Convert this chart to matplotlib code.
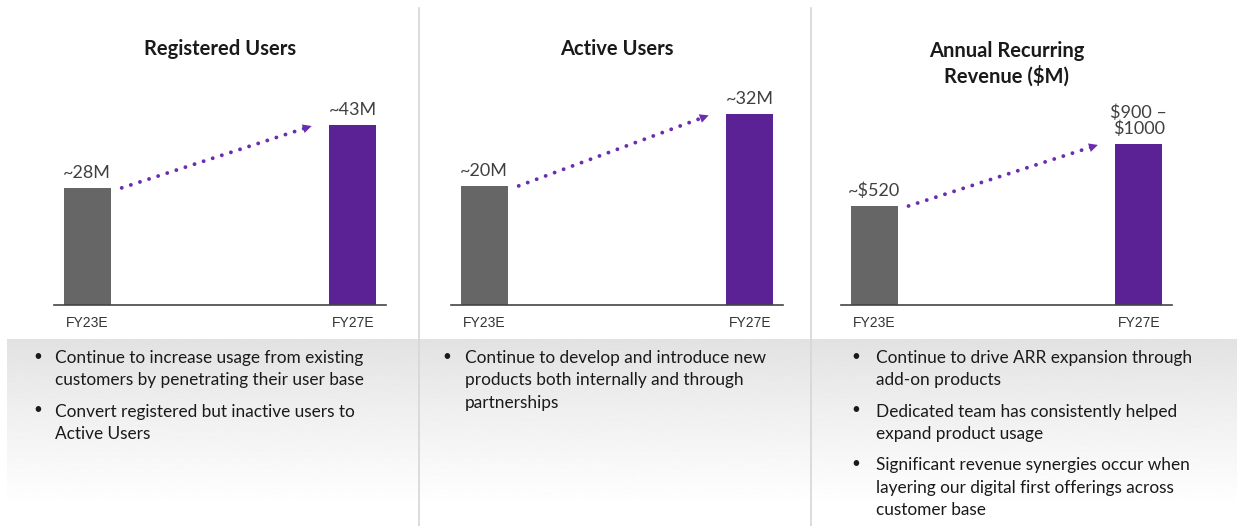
import matplotlib.pyplot as plt
import numpy as np

# ── Data ──────────────────────────────────────────────────────────────────────
periods = ["FY23E", "FY27E"]

reg_users = [28, 43]
reg_labels = ["~28M", "~43M"]

active_users = [20, 32]
active_labels = ["~20M", "~32M"]

arr_values = [520, 845]
arr_labels = ["~\\$520", "\\$900 –\n\\$1000"]

titles = ["Registered Users", "Active Users", "Annual Recurring\nRevenue (\\$M)"]

bullets = [
    ["Continue to increase usage from existing\ncustomers by penetrating their user base",
     "Convert registered but inactive users to\nActive Users"],
    ["Continue to develop and introduce new\nproducts both internally and through\npartnerships"],
    ["Continue to drive ARR expansion through\nadd-on products",
     "Dedicated team has consistently helped\nexpand product usage",
     "Significant revenue synergies occur when\nlayering our digital first offerings across\ncustomer base"],
]

# ── Style ─────────────────────────────────────────────────────────────────────
W, H = 1241, 526
gray = "#666666"
purple = "#5B2296"
dot_purple = "#6A2CB0"
text_dark = "#1a1a1a"
label_col = "#404040"
font_main = ["Lato", "DejaVu Sans"]
font_tick = ["Liberation Sans", "DejaVu Sans"]


def box(l, t, r, b):
    return [l / W, 1 - b / H, (r - l) / W, (b - t) / H]


fig = plt.figure(figsize=(W / 100, H / 100), dpi=100)

# background layer in pixel coordinates
bg = fig.add_axes([0, 0, 1, 1], zorder=0)
bg.set_xlim(0, W)
bg.set_ylim(H, 0)
bg.axis("off")

t = np.linspace(0, 1, 256)
shade = 0.885 + 0.115 * np.clip(t / 0.9, 0, 1) ** 0.9
bg.imshow(shade[:, None], cmap="gray", vmin=0, vmax=1, aspect="auto",
          extent=(7, 1237, 526, 339), origin="upper", interpolation="bilinear")

for xd in (419, 811):
    bg.plot([xd, xd], [8, 526], color="#d6d6d6", lw=1.2)

# ── Chart panels ──────────────────────────────────────────────────────────────
panels = [
    (54, 386, reg_users, reg_labels, 51.4),
    (451, 783, active_users, active_labels, 36.1),
    (841, 1172, arr_values, arr_labels, 1129),
]

x = np.arange(len(periods))
for (left, right, vals, labs, ytop), title in zip(panels, titles):
    ax = fig.add_axes(box(left, 90, right, 305), zorder=2)
    ax.set_facecolor("none")
    ax.bar(x, vals, width=0.177, color=[gray, purple], zorder=2)
    ax.set_xlim(-0.125, 1.125)
    ax.set_ylim(0, ytop)
    for s in ("top", "right", "left"):
        ax.spines[s].set_visible(False)
    ax.spines["bottom"].set_color("#444444")
    ax.spines["bottom"].set_linewidth(1.2)
    ax.set_yticks([])
    ax.set_xticks(x)
    ax.set_xticklabels(periods, fontsize=10, family=font_tick, color="#333333")
    ax.tick_params(axis="x", length=0, pad=8)

    for xi, v, lab in zip(x, vals, labs):
        ax.annotate(lab, (xi, v), xytext=(0, 5), textcoords="offset points",
                    ha="center", va="bottom", fontsize=13, family=font_main,
                    color=label_col, linespacing=1.0)

    # dotted growth arrow
    x0, y0 = 0.13, vals[0]
    x1, y1 = 0.855, vals[1]
    ax.plot([x0, x0 + 0.95 * (x1 - x0)], [y0, y0 + 0.95 * (y1 - y0)],
            color=dot_purple, lw=2.8, linestyle=(0, (0.01, 2.45)),
            dash_capstyle="round", zorder=3)
    ax.annotate("", xy=(x1, y1), xytext=(x0 + 0.97 * (x1 - x0), y0 + 0.97 * (y1 - y0)),
                arrowprops=dict(arrowstyle="-|>", color=dot_purple, lw=0,
                                mutation_scale=16), zorder=3)

    cx = (left + right) / 2
    ty = 49 if "\n" not in title else 63.5
    fig.text(cx / W, 1 - ty / H, title, ha="center", va="center", fontsize=14.5,
             fontweight="bold", family=font_main, color=text_dark, linespacing=1.25)

# ── Bullet text ───────────────────────────────────────────────────────────────
bullet_x = [(33, 55), (442, 465), (851, 876)]
for (bx, tx), paras in zip(bullet_x, bullets):
    y = 350
    for p in paras:
        n = p.count("\n") + 1
        bg.text(bx, y, "•", ha="left", va="top", fontsize=11,
                family=font_main, color=text_dark)
        bg.text(tx, y, p, ha="left", va="top", fontsize=12.4,
                family=font_main, color=text_dark, linespacing=1.5)
        y += n * 21.5 + 10.5

fig.savefig("out.png", dpi=100)
